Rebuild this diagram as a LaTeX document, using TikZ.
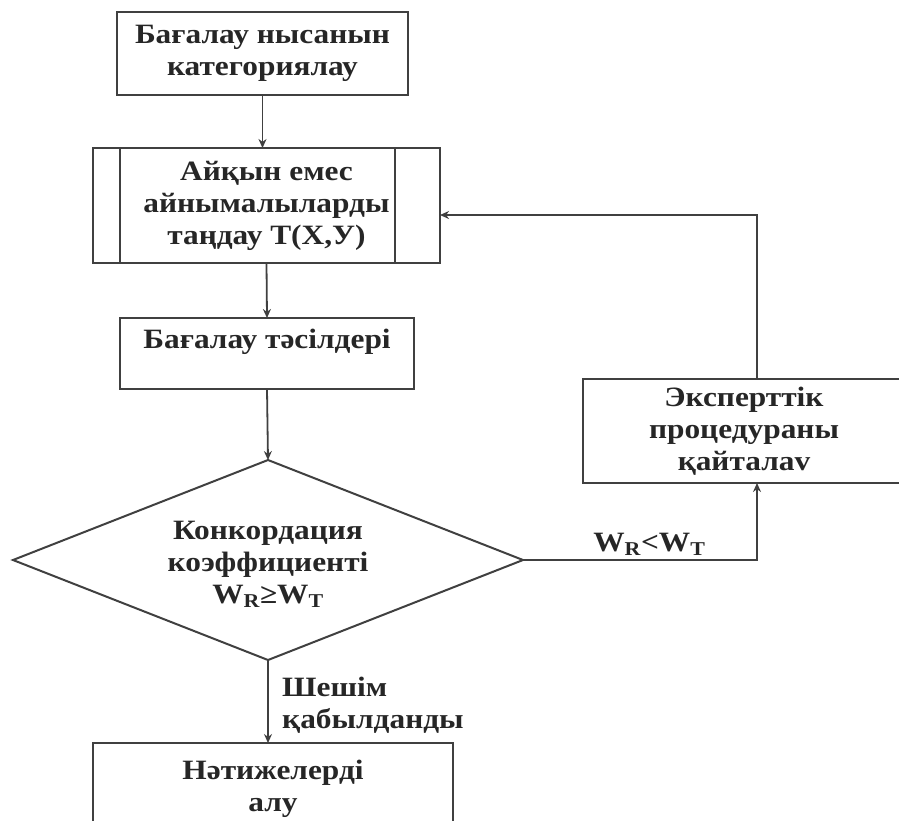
\documentclass[tikz,border=0pt]{standalone}
\usepackage{fontspec}
\setmainfont{Liberation Serif}[FakeStretch=1.12]
\usetikzlibrary{arrows.meta, shapes.geometric}

\tikzset{
  block/.style={draw=black!75, line width=2pt, inner sep=0pt, outer sep=0pt, align=center, text=black!85, heavy},
  heavy/.style={font=\fontsize{28}{32}\selectfont\bfseries},
  flow/.style={draw=black!75, line width=1.8pt, -{Stealth[length=9pt,width=8pt]}},
}

\begin{document}
\begin{tikzpicture}[x=1pt, y=-1pt]
        \useasboundingbox (0,0) rectangle (899,820);

        \node[block, minimum width=291pt, minimum height=83pt] (cat) at (262.5,53.5) {Бағалау нысанын\\категориялау};
        \node[block, minimum width=347pt, minimum height=115pt] (vars) at (266.5,205.5) {Айқын емес\\айнымалыларды\\таңдау Т(Х,У)};
        \draw[black!75, line width=2pt] ([xshift=27pt]vars.north west) -- ([xshift=27pt]vars.south west);
        \draw[black!75, line width=2pt] ([xshift=-45pt]vars.north east) -- ([xshift=-45pt]vars.south east);
        \node[block, minimum width=294pt, minimum height=71pt, text height=20pt, text depth=30pt] (meth) at (267,353.5) {Бағалау тәсілдері};
        \node[block, diamond, minimum width=510pt, minimum height=200pt,
              label={[heavy, align=center, text=black!85, yshift=-4pt]center:Конкордация\\коэффициенті\\W\textsubscript{R}≥W\textsubscript{T}}] (cond) at (268,560) {};
        \node[block, minimum width=322pt, minimum height=104pt] (rep) at (744,431) {Эксперттік\\процедураны\\қайталаv};
        \node[block, minimum width=360pt, minimum height=92pt] (res) at (273,789) {Нәтижелерді\\алу};

        \draw[flow] (cat.south) -- (cat.south |- vars.north);
        \draw[flow] (vars.south) -- (meth.north);
        \draw[flow] (meth.south) -- (cond.north);
        \draw[flow] (cond.east) -| ([xshift=13pt]rep.south) node[pos=0.27, above, heavy, text=black!85] {W\textsubscript{R}<W\textsubscript{T}};
        \draw[flow] ([xshift=13pt]rep.north) |- ([yshift=-9.5pt]vars.east);
        \draw[flow] (cond.south) -- (cond.south |- res.north) node[midway, right, align=left, heavy, text=black!85, xshift=10pt, yshift=-4pt] {Шешім\\қабылданды};
    \end{tikzpicture}
\end{document}
